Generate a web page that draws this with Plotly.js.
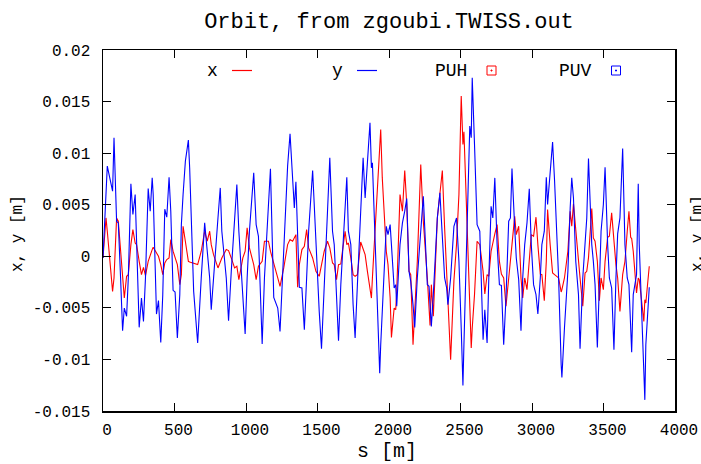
<!DOCTYPE html>
<html>
<head>
<meta charset="utf-8">
<script src="https://cdn.plot.ly/plotly-3.0.1.min.js"></script>
<style>html,body{margin:0;padding:0;background:#fff;}#chart{width:701px;height:464px;}</style>
</head>
<body>
<div id="chart"></div>
<script>
// Path length s [m]
const sPos = [
0,21,30,67,77,95,107,123,137,149,165,177,195,209,225,235,253,269,283,297,316,330,344,351,374,388,404,418,432,446,462,474,490,504,520,537,548,560,576,597,606,634,662,
687,711,729,746,757,773,804,820,831,862,878,897,920,936,950,978,994,1008,1024,1054,1071,1087,1113,1129,1157,1171,1194,1222,1238,1264,1291,1308,
1326,1338,1349,1361,1373,1391,1408,1424,1438,1466,1489,1512,1528,1547,1570,1586,1605,1617,1633,1647,1663,1693,1705,1716,1733,1749,1763,1779,1802,1819,1833,1849,1867,1877,1884,1912,1926,1935,1942,1953,1981,1993,
2008,2017,2036,2047,2054,2077,2094,2110,2124,2140,2152,2168,2180,2198,2222,2240,2268,2280,2287,2296,2310,2338,2356,2373,2389,2403,2412,2431,2454,2472,2489,2505,2517,2524,2535,2565,2575,2582,2598,2616,2635,2658,
2670,2686,2698,2714,2726,2740,2756,2772,2786,2802,2818,2837,2849,2860,2879,2890,2907,2923,2935,2949,2965,2981,2995,3011,3028,3041,3058,3069,3086,3100,3109,3127,3144,3158,3186,3204,3209,3227,3251,3267,3278,3290,3306,3325,
3336,3355,3371,3383,3395,3418,3429,3441,3457,3471,3483,3499,3511,3529,3541,3557,3573,3587,3599,3615,3634,3650,3666,3678,3690,3697,3708,3731,3743,3750,3782,3789,3796,3820
];
// Horizontal orbit x [m]
const orbitX = [
-0.00016,0.00372,0.00243,-0.0034,-0.0021,0.00372,0.0034,0.00016,-0.0021,-0.00405,
-0.00194,-0.00178,0.00113,0.00259,0.00129,0.00113,-0.00049,-0.00178,-0.00107,-0.00188,
-0.00049,0.00016,0.00065,0.00087,0.00032,0,-0.00081,-0.00178,-0.00065,-0.00032,
-0.00016,0.00162,0.00049,-0.00016,-0.00081,-0.00275,-0.00178,0.00291,0.00146,-0.00049,
-0.00055,-0.00065,-0.00081,
0.00049,0.00243,0.00146,0.00243,0.00113,0.00016,-0.00113,-0.00049,-0.00016,0.00065,
0.00055,-0.00016,-0.00113,-0.00097,-0.00227,-0.00016,0.00049,0.00275,0.00081,-0.00081,
-0.00227,-0.00097,-0.00049,0.00146,0.00146,0.00049,-0.00081,-0.0021,-0.00291,-0.00113,
0.00113,0.00162,
0.00146,0.00178,0.0021,-0.00301,-0.00081,0.00065,0.00097,0.00259,0.00081,-0.00016,
-0.00146,-0.00194,-0.00065,0.00049,0.00146,0.00081,-0.00065,-0.00081,-0.00227,-0.00081,
-0.00074,0.00243,0.00113,0.00129,-0.00016,-0.00178,-0.00194,-0.00178,0.00139,0.00081,
0.00016,-0.00146,-0.0034,-0.00405,-0.0021,0.00502,0.00874,0.01084,0.0123,0.0076,
0.00049,-0.00081,
-0.00405,-0.00786,-0.00502,-0.00518,-0.0034,0.00599,0.00437,0.00832,0.00502,-0.00146,
-0.00178,-0.00858,-0.00534,-0.00049,0.0089,0.0034,-0.0021,-0.00469,-0.0067,-0.00275,
-0.00582,0.00372,0.00599,0.00832,0.00275,-0.0021,-0.00469,-0.01003,-0.00236,0.00113,
0.00599,0.01553,0.01084,0.01207,0.0076,-0.00534,-0.0089,-0.00696,-0.00372,0.00146,
0.00113,-0.00146,
-0.00366,-0.00178,-0.00194,0.00049,0.00146,0.00217,0.00307,-0.00049,-0.00172,-0.0021,
-0.00485,-0.00178,-0.00049,0.00113,0.00388,0.0021,0.00291,-0.0021,-0.00405,-0.0021,
-0.00324,-0.00016,0.0021,0.00194,0.00379,0.00113,-0.00172,-0.00178,-0.0043,-0.00049,
0.00453,0.00113,-0.00162,-0.00178,-0.0021,-0.00346,-0.00324,-0.0021,0.00049,0.00437,
0.00291,0.00508,0.00243,-0.00081,
-0.0021,-0.00485,-0.00162,-0.00146,-0.00016,0.00463,0.00178,0.00146,-0.00049,-0.0043,
-0.0021,-0.00324,-0.00049,0.00184,0.00194,0.00421,0.00113,-0.00081,-0.0021,-0.00534,
-0.00178,-0.00049,0.00243,0.00437,0.00184,0.00172,0.00049,-0.00356,-0.0021,-0.00227,
-0.00631,-0.00421,-0.00453,-0.00097
];
// Vertical orbit y [m]
const orbitY = [
-0.00016,0.00599,0.00874,0.00631,0.01149,0.0034,0.00324,-0.0021,-0.00722,-0.00502,
-0.00582,-0.0021,0.00702,0.00405,0.00599,0.0014,-0.00689,-0.00405,-0.00631,-0.0021,
0.00657,0.00437,0.0076,0.00599,-0.0056,-0.0043,-0.00835,-0.00372,0.00456,0.00379,
0.00767,0.00437,-0.0033,-0.00346,-0.00793,-0.00372,0.00307,0.00599,0.00922,0.01126,
0.00858,-0.0034,-0.00841,
-0.0021,0.00324,0.00049,-0.0021,-0.00518,-0.00178,0.00372,0.00663,0.00243,-0.0021,
-0.00625,-0.00146,0.00372,0.00696,0.00243,-0.00372,-0.00754,-0.0021,0.00243,0.00809,
0.00307,0.00194,-0.00851,-0.0021,0.00502,0.00848,-0.00398,-0.00502,-0.00728,0.00113,
0.00874,0.01188,
0.0076,0.00469,0.00722,0.00113,-0.00301,-0.00307,-0.00712,-0.0021,0.00243,0.00832,
0.00113,-0.00534,-0.00896,-0.0021,0.00437,0.00955,0.00243,0.00113,-0.00405,-0.00819,
-0.00275,0.00502,0.00767,0.00243,0.00113,-0.00469,-0.00793,-0.00275,0.00502,0.00955,
0.00566,0.00922,0.01294,0.00858,0.00906,-0.0021,-0.0076,-0.01133,-0.00858,-0.00534,
0.00291,0.0021,
0.00307,0.00113,-0.00307,-0.00275,-0.00485,0.00113,0.00324,0.00437,0.0056,-0.00146,
-0.00243,-0.00469,-0.00689,-0.0021,0.00307,0.00582,-0.00275,-0.00291,-0.00469,-0.0068,
-0.00372,0.00372,0.00615,0.00178,-0.0021,-0.00307,-0.00469,-0.0021,0.00291,0.00372,
-0.00049,-0.00696,-0.01252,-0.00858,-0.0021,0.01262,0.01149,0.01731,0.01084,0.00307,
0.00243,-0.00809,
-0.00518,-0.00841,-0.0021,0.00485,0.00372,0.0076,0.00113,-0.00275,-0.00282,-0.00858,
-0.00405,0.0034,0.00372,0.00851,0.00275,-0.00016,-0.00227,-0.00722,-0.0021,0.00113,
0.00324,0.00654,0.00113,-0.00275,-0.00372,-0.0056,-0.0021,0.00113,0.00243,0.00767,
0.00502,0.00858,0.01107,0.00728,-0.0021,-0.01052,-0.01175,-0.00696,-0.00146,0.00469,
0.0076,0.00566,-0.00049,-0.00372,
-0.00896,-0.0021,0.00178,0.00372,0.00948,0.00113,-0.00049,-0.00275,-0.00883,-0.0021,
0.00243,0.00502,0.00864,0.00113,-0.0021,-0.00307,-0.00906,-0.0021,0.00217,0.00372,
0.01045,0.00113,-0.0021,-0.00275,-0.00696,-0.00929,-0.00372,-0.00178,0.00702,0.00113,
-0.01116,-0.01392,-0.00858,-0.00301
];
// Pick-up readings (none plotted in the reference)
const puhS = [], puhX = [];
const puvS = [], puvY = [];

const seriesNames = ['x', 'y', 'PUH', 'PUV'];
const seriesColors = ['#ff0000', '#0000ff', '#ff0000', '#0000ff'];
const xTickVals = [0, 500, 1000, 1500, 2000, 2500, 3000, 3500, 4000];
const yTickVals = [-0.015, -0.01, -0.005, 0, 0.005, 0.01, 0.015, 0.02];
const yTickText = ['-0.015', '-0.01', '-0.005', '0', '0.005', '0.01', '0.015', '0.02'];

const MONO = 'Liberation Mono, Courier New, monospace';

const traces = [
  {x: sPos, y: orbitX, type: 'scatter', mode: 'lines', name: seriesNames[0],
   line: {color: seriesColors[0], width: 1.1}},
  {x: sPos, y: orbitY, type: 'scatter', mode: 'lines', name: seriesNames[1],
   line: {color: seriesColors[1], width: 1.1}},
  {x: puhS, y: puhX, type: 'scatter', mode: 'markers', name: seriesNames[2],
   marker: {symbol: 'square-open-dot', color: seriesColors[2], size: 9}},
  {x: puvS, y: puvY, type: 'scatter', mode: 'markers', name: seriesNames[3],
   marker: {symbol: 'square-open-dot', color: seriesColors[3], size: 9}}
];

// plot area: left 103, right 675, top 50, bottom 411
const L = 103, R = 675, T = 50, B = 411;
const px = v => (v - L) / (R - L);
const py = v => (B - v) / (B - T);
const legY = 70.5;

const shapes = [
  {type: 'line', xref: 'paper', yref: 'paper', x0: px(232), x1: px(252), y0: py(legY), y1: py(legY),
   line: {color: seriesColors[0], width: 1.2}},
  {type: 'line', xref: 'paper', yref: 'paper', x0: px(357), x1: px(377), y0: py(legY), y1: py(legY),
   line: {color: seriesColors[1], width: 1.2}},
  {type: 'rect', xref: 'paper', yref: 'paper', x0: px(487), x1: px(496), y0: py(legY + 4.5), y1: py(legY - 4.5),
   line: {color: seriesColors[2], width: 1}},
  {type: 'rect', xref: 'paper', yref: 'paper', x0: px(491), x1: px(492), y0: py(legY + 0.5), y1: py(legY - 0.5),
   line: {color: seriesColors[2], width: 1}, fillcolor: seriesColors[2]},
  {type: 'rect', xref: 'paper', yref: 'paper', x0: px(611.5), x1: px(620.5), y0: py(legY + 4.5), y1: py(legY - 4.5),
   line: {color: seriesColors[3], width: 1}},
  {type: 'rect', xref: 'paper', yref: 'paper', x0: px(615.5), x1: px(616.5), y0: py(legY + 0.5), y1: py(legY - 0.5),
   line: {color: seriesColors[3], width: 1}, fillcolor: seriesColors[3]}
];

const legFont = {family: MONO, size: 18, color: '#000'};
const annotations = [
  {text: seriesNames[0], xref: 'paper', yref: 'paper', x: px(220), y: py(legY), xanchor: 'right', yanchor: 'middle', showarrow: false, font: legFont},
  {text: seriesNames[1], xref: 'paper', yref: 'paper', x: px(345), y: py(legY), xanchor: 'right', yanchor: 'middle', showarrow: false, font: legFont},
  {text: seriesNames[2], xref: 'paper', yref: 'paper', x: px(469), y: py(legY), xanchor: 'right', yanchor: 'middle', showarrow: false, font: legFont},
  {text: seriesNames[3], xref: 'paper', yref: 'paper', x: px(594), y: py(legY), xanchor: 'right', yanchor: 'middle', showarrow: false, font: legFont},
  {text: 's [m]', xref: 'paper', yref: 'paper', x: px(387), y: py(451), xanchor: 'center', yanchor: 'middle', showarrow: false,
   font: {family: MONO, size: 20, color: '#000'}},
  {text: 'x, y [m]', xref: 'paper', yref: 'paper', x: px(18), y: py(234), xanchor: 'center', yanchor: 'middle', textangle: -90, showarrow: false,
   font: {family: MONO, size: 16, color: '#000'}},
  {text: 'x, y [m]', xref: 'paper', yref: 'paper', x: px(698), y: py(234), xanchor: 'center', yanchor: 'middle', textangle: -90, showarrow: false,
   font: {family: MONO, size: 16, color: '#000'}}
];

const layout = {
  width: 701, height: 464,
  margin: {l: L, r: 701 - R, t: T, b: 464 - B, pad: 0},
  paper_bgcolor: '#ffffff', plot_bgcolor: '#ffffff',
  showlegend: false,
  title: {text: 'Orbit, from zgoubi.TWISS.out', font: {family: MONO, size: 22, color: '#000'},
          x: 0.5, xref: 'paper', xanchor: 'center', y: 1 - 20 / 464, yref: 'container', yanchor: 'middle'},
  xaxis: {range: [0, 4000], tickmode: 'array', tickvals: xTickVals, ticks: 'inside', ticklen: 8, tickwidth: 1, tickcolor: '#000',
          showline: true, linecolor: '#000', linewidth: 1.5, mirror: 'allticks', showgrid: false, zeroline: false,
          tickfont: {family: MONO, size: 16, color: '#000'}, ticklabelshift: 4, ticklabelstandoff: 3},
  yaxis: {range: [-0.015, 0.02], tickmode: 'array', tickvals: yTickVals, ticktext: yTickText, ticks: 'inside', ticklen: 8, tickwidth: 1, tickcolor: '#000',
          showline: true, linecolor: '#000', linewidth: 1.5, mirror: 'allticks', showgrid: false, zeroline: false,
          tickfont: {family: MONO, size: 16, color: '#000'}, ticklabelstandoff: 8},
  shapes: shapes,
  annotations: annotations
};

Plotly.newPlot('chart', traces, layout, {staticPlot: true, displayModeBar: false});
</script>
</body>
</html>
